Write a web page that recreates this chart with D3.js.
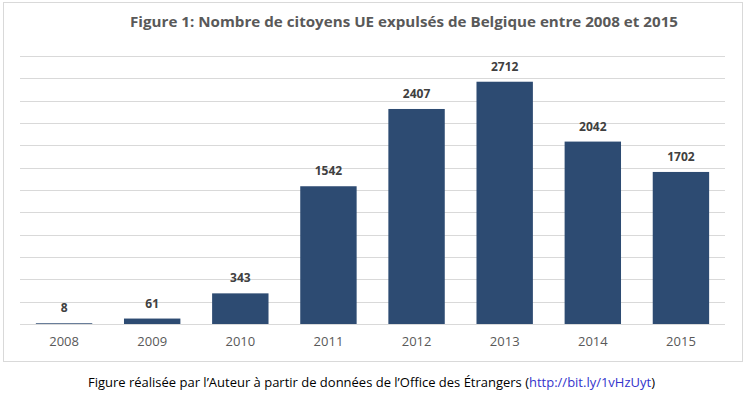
<!DOCTYPE html>
<html>
<head>
<meta charset="utf-8">
<script src="https://cdn.jsdelivr.net/npm/d3@7"></script>
<style>
  body { margin: 0; background: #fff; }
  text { font-family: "Open Sans", "DejaVu Sans", sans-serif; }
</style>
</head>
<body>
<div id="chart"></div>
<script>
// data
var years = ["2008", "2009", "2010", "2011", "2012", "2013", "2014", "2015"];
var values = [8, 61, 343, 1542, 2407, 2712, 2042, 1702];
var gridTicks = d3.range(0, 3001, 250);

var w = 750;
var h = 394;

var svg = d3.select("#chart")
    .append("svg")
    .attr("width", w)
    .attr("height", h);

// outer frame
svg.append("rect")
    .attr("x", 3.5)
    .attr("y", 2.5)
    .attr("width", 739)
    .attr("height", 359)
    .attr("fill", "#fff")
    .attr("stroke", "#d9d9d9");

// title
svg.append("text")
    .attr("x", 130)
    .attr("y", 27)
    .attr("textLength", 548)
    .attr("lengthAdjust", "spacingAndGlyphs")
    .attr("font-size", 15)
    .attr("font-weight", "bold")
    .attr("fill", "#595959")
    .text("Figure 1: Nombre de citoyens UE expulsés de Belgique entre 2008 et 2015");

// scales
var xScale = d3.scaleBand()
    .domain(years)
    .range([20, 725])
    .paddingInner(0.36)
    .paddingOuter(0.18);

var yScale = d3.scaleLinear()
    .domain([0, 3000])
    .range([324, 56]);

// gridlines
svg.append("g")
    .selectAll("line")
    .data(gridTicks)
    .enter()
    .append("line")
    .attr("x1", 20)
    .attr("x2", 725)
    .attr("y1", function(d) { return Math.round(yScale(d)) + 0.5; })
    .attr("y2", function(d) { return Math.round(yScale(d)) + 0.5; })
    .attr("stroke", "#d9d9d9")
    .attr("stroke-width", 1);

// bars
svg.append("g")
    .selectAll("rect")
    .data(values)
    .enter()
    .append("rect")
    .attr("x", function(d, i) { return xScale(years[i]); })
    .attr("y", function(d) { return yScale(d); })
    .attr("width", xScale.bandwidth())
    .attr("height", function(d) { return yScale(0) - yScale(d); })
    .attr("fill", "#2d4b72");

// value labels
svg.append("g")
    .selectAll("text")
    .data(values)
    .enter()
    .append("text")
    .attr("x", function(d, i) { return xScale(years[i]) + xScale.bandwidth() / 2; })
    .attr("y", function(d) { return yScale(d) - 11; })
    .attr("text-anchor", "middle")
    .attr("font-size", 12)
    .attr("font-weight", "bold")
    .attr("fill", "#404040")
    .text(function(d) { return d; });

// x axis labels
var xAxis = d3.axisBottom(xScale).tickSize(0).tickPadding(13);
var gx = svg.append("g")
    .attr("transform", "translate(0," + 324 + ")")
    .call(xAxis);
gx.select(".domain").remove();
gx.selectAll("text")
    .attr("font-size", 13)
    .attr("font-family", "'Open Sans', sans-serif")
    .attr("fill", "#595959");

// caption
var caption = svg.append("text")
    .attr("x", 88)
    .attr("y", 387)
    .attr("font-size", 12)
    .attr("fill", "#000");
caption.append("tspan").text("Figure réalisée par l’Auteur à partir de données de l’Office des Étrangers (");
caption.append("tspan").attr("fill", "#3333cc").text("http://bit.ly/1vHzUyt");
caption.append("tspan").text(")");
caption.attr("textLength", 567).attr("lengthAdjust", "spacingAndGlyphs");
</script>
</body>
</html>
